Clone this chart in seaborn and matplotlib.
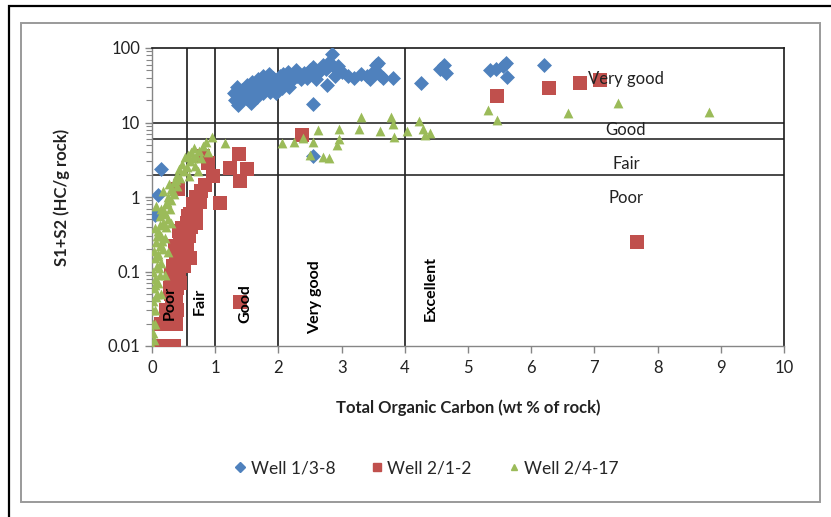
import matplotlib
matplotlib.use("Agg")
import matplotlib.pyplot as plt
import matplotlib.ticker as mticker
from matplotlib.patches import Rectangle
from matplotlib.lines import Line2D
import seaborn as sns
import pandas as pd
import numpy as np

# ---------------- data ----------------
well1_toc = [1.30, 1.32, 1.35, 1.38, 1.40, 1.42, 1.45, 1.48, 1.50, 1.52, 1.55, 1.58, 1.60, 1.62,
             1.65, 1.68, 1.70, 1.72, 1.75, 1.78, 1.80, 1.82, 1.85, 1.88, 1.90, 1.92, 1.95, 1.98,
             2.00, 2.02, 2.05, 2.08, 2.10, 2.12, 2.15, 2.18, 2.20, 2.25, 2.28, 2.30, 2.35, 2.40,
             2.45, 2.50, 2.55, 2.58, 2.60, 2.65, 2.70, 2.75, 2.77, 2.80, 2.85, 2.88, 2.90,
             2.95, 3.00, 3.10, 3.20, 3.30, 3.40, 3.45, 3.50, 3.55, 3.58, 3.60, 3.65, 3.81, 4.25,
             4.55, 4.62, 4.65, 5.35, 5.45, 5.55, 5.60, 5.62, 6.20, 2.55, 2.55, 0.15, 0.10, 0.05,
             1.36, 1.44, 1.56, 1.66, 1.76, 1.86, 1.96, 2.06, 2.16]
well1_s = [25, 20, 30, 22, 19, 27, 24, 21, 32, 26, 22, 35, 28, 24,
           30, 38, 33, 27, 42, 35, 30, 38, 45, 33, 28, 40, 35, 30,
           37, 42, 33, 45, 38, 35, 48, 40, 36, 45, 50, 42, 38, 46,
           40, 50, 55, 44, 38, 48, 60, 52, 32, 65, 83, 55, 42,
           58, 48, 42, 40, 45, 42, 38, 48, 60, 63, 44, 40, 40, 34,
           52, 60, 46, 50, 52, 58, 62, 41, 60, 17.5, 3.6, 2.4, 1.05, 0.57,
           17, 21, 18, 22, 25, 26, 25, 29, 30]

well2_toc = [0.15, 0.25, 0.35, 0.15, 0.25, 0.38, 0.22, 0.30, 0.38, 0.30, 0.40, 0.45, 0.35,
             0.42, 0.50, 0.38, 0.48, 0.55, 0.45, 0.58, 0.50, 0.62, 0.55, 0.65, 0.60, 0.70,
             0.65, 0.75, 0.70, 0.76, 0.41, 0.84, 0.97, 0.81, 0.89, 1.08, 1.23, 1.38, 1.50,
             1.39, 1.39, 2.38, 5.46, 6.28, 6.77, 7.09, 7.67, 0.28, 0.33, 0.52, 0.60,
             0.32, 0.40, 0.36, 0.44, 0.52, 0.47, 0.57, 0.66, 0.70, 0.78, 0.30, 0.42]
well2_s = [0.01, 0.01, 0.01, 0.02, 0.02, 0.02, 0.03, 0.03, 0.04, 0.05, 0.06, 0.07, 0.08,
           0.10, 0.12, 0.15, 0.18, 0.20, 0.25, 0.30, 0.35, 0.40, 0.45, 0.50, 0.60, 0.70,
           0.80, 0.90, 1.00, 0.85, 1.30, 1.45, 1.90, 3.50, 2.90, 0.83, 2.45, 3.80, 2.40,
           1.65, 0.039, 6.8, 23, 29, 34, 37, 0.25, 0.06, 0.12, 0.25, 0.15,
           0.04, 0.03, 0.22, 0.14, 0.30, 0.38, 0.55, 0.62, 0.45, 1.20, 0.09, 0.35]

well3_toc = [0.00, 0.02, 0.05, 0.02, 0.08, 0.03, 0.10, 0.05, 0.12, 0.02, 0.08, 0.15, 0.05,
             0.10, 0.18, 0.12, 0.06, 0.20, 0.15, 0.10, 0.22, 0.18, 0.25, 0.12, 0.20, 0.28,
             0.22, 0.30, 0.25, 0.35, 0.30, 0.40, 0.35, 0.45, 0.40, 0.50, 0.55, 0.48, 0.60,
             0.65, 0.70, 0.62, 0.75, 0.80, 0.85, 0.95, 1.16, 0.72, 0.58, 0.68, 0.05, 0.03,
             0.15, 0.20, 0.08, 0.30, 0.00, 0.04, 0.14, 0.25,
             0.01, 0.06, 0.11, 0.03, 0.09, 0.16, 0.04, 0.13, 0.19, 0.07, 0.24, 0.17, 0.27,
             0.33, 0.38, 0.43, 0.52, 0.57, 0.67, 0.78, 0.88,
             2.06, 2.25, 2.39, 2.54, 2.63, 2.50, 2.70, 2.80, 2.96, 2.96, 2.92, 3.28, 3.30,
             3.60, 3.78, 3.82, 3.83, 4.03, 4.23, 4.29, 4.32, 4.40, 5.32, 5.46, 6.58, 7.37, 8.81]
well3_s = [0.010, 0.020, 0.030, 0.040, 0.050, 0.060, 0.070, 0.080, 0.090, 0.10, 0.12, 0.13, 0.15,
           0.17, 0.20, 0.22, 0.25, 0.28, 0.30, 0.35, 0.40, 0.45, 0.50, 0.55, 0.60, 0.70,
           0.80, 0.90, 1.00, 1.10, 1.30, 1.40, 1.60, 1.80, 2.00, 2.20, 2.50, 2.80, 3.00,
           3.30, 3.60, 4.00, 4.20, 4.80, 5.50, 6.40, 5.30, 2.20, 1.90, 2.60, 0.020, 0.012,
           0.050, 0.090, 0.30, 0.45, 0.030, 0.065, 0.70, 0.18,
           0.015, 0.045, 0.11, 0.19, 0.16, 0.26, 0.38, 0.42, 0.65, 0.75, 0.85, 1.20, 1.50,
           1.20, 1.70, 2.40, 3.40, 3.70, 4.50, 3.30, 4.00,
           5.3, 5.5, 6.2, 5.5, 7.9, 3.7, 3.4, 3.3, 8.2, 6.0, 5.0, 8.2, 11.8,
           7.7, 11.8, 9.6, 6.4, 7.7, 10.5, 8.2, 6.7, 7.3, 14.7, 10.8, 13.4, 18.3, 13.8]

well_names = ["Well 1/3-8", "Well 2/1-2", "Well 2/4-17"]
toc_limits = [0.55, 1, 2, 4]
toc_classes = ["Poor", "Fair", "Good", "Very good", "Excellent"]
s12_limits = [10, 6, 2]
s12_classes = ["Very good", "Good", "Fair", "Poor"]
y_ticks = [0.01, 0.1, 1, 10, 100]
y_tick_labels = ["0.01", "0.1", "1", "10", "100"]
x_ticks = list(range(0, 11))

df = pd.concat([
    pd.DataFrame({"TOC": well1_toc, "S1S2": well1_s, "Well": well_names[0]}),
    pd.DataFrame({"TOC": well2_toc, "S1S2": well2_s, "Well": well_names[1]}),
    pd.DataFrame({"TOC": well3_toc, "S1S2": well3_s, "Well": well_names[2]}),
], ignore_index=True)

# ---------------- style ----------------
sns.set_theme(style="white")
plt.rcParams["font.family"] = ["Lato", "DejaVu Sans"]

W, H = 831, 517
fig = plt.figure(figsize=(W / 100, H / 100), dpi=100)
ax = fig.add_axes([152 / W, 1 - 346 / H, (784 - 152) / W, (346 - 48) / H])

# frames
fig.patches.append(Rectangle((9 / W, -0.05), 1.2, 1 - 6 / H + 0.05, transform=fig.transFigure,
                             fill=False, edgecolor="black", linewidth=1.6, zorder=-5))
fig.patches.append(Rectangle((21 / W, 1 - 502 / H), (820 - 21) / W, (502 - 23) / H,
                             transform=fig.transFigure, fill=False, edgecolor="#9a9a9a",
                             linewidth=1.4, zorder=-4))

# classification lines
for v in toc_limits:
    ax.axvline(v, color="#1a1a1a", linewidth=1.2, zorder=1)
for h in s12_limits:
    ax.axhline(h, color="#2a2a2a", linewidth=1.2, zorder=1)

palette = {well_names[0]: "#4F81BD", well_names[1]: "#C0504D", well_names[2]: "#9BBB59"}
markers = {well_names[0]: "D", well_names[1]: "s", well_names[2]: "^"}
sizes = {well_names[0]: 58, well_names[1]: 95, well_names[2]: 50}

for name in well_names:
    sub = df[df["Well"] == name]
    sns.scatterplot(data=sub, x="TOC", y="S1S2", ax=ax, color=palette[name],
                    marker=markers[name], s=sizes[name], linewidth=0, zorder=3,
                    legend=False)

ax.set_yscale("log")
ax.set_ylim(0.01, 100)
ax.set_xlim(0, 10)
ax.set_yticks(y_ticks)
ax.set_yticklabels(y_tick_labels)
ax.yaxis.set_minor_locator(mticker.LogLocator(base=10, subs=np.arange(2, 10)))
ax.yaxis.set_minor_formatter(mticker.NullFormatter())
ax.set_xticks(x_ticks)

for side in ["top", "right"]:
    ax.spines[side].set_color("#1a1a1a")
    ax.spines[side].set_linewidth(1.2)
for side in ["left", "bottom"]:
    ax.spines[side].set_color("#868686")
    ax.spines[side].set_linewidth(1.0)

ax.tick_params(axis="both", which="major", direction="out", length=5, width=1,
               color="#868686", labelsize=12, labelcolor="#222222", left=True, bottom=True)
ax.tick_params(axis="y", which="minor", direction="out", length=4, width=0.8,
               color="#868686", left=True)
ax.tick_params(axis="x", pad=5)

ax.set_xlabel("Total Organic Carbon (wt % of rock)", fontsize=12, fontweight="bold",
              color="#222222")
ax.set_ylabel("S1+S2 (HC/g rock)", fontsize=12, fontweight="bold", color="#222222")
ax.xaxis.set_label_coords(0.5, -(408 - 346) / 298, transform=ax.transAxes)
ax.yaxis.set_label_coords(-(152 - 62) / 632, 0.5, transform=ax.transAxes)
ax.xaxis.label.set_va("center")
ax.yaxis.label.set_va("center")

# class labels
toc_label_x = [0.28, 0.75, 1.47, 2.58, 4.41]
toc_label_y = [0.038, 0.04, 0.037, 0.045, 0.06]
for txt, xv, yv in zip(toc_classes, toc_label_x, toc_label_y):
    ax.text(xv, yv, txt, rotation=90, ha="center", va="center", fontsize=11.5,
            fontweight="bold", color="black", zorder=4)

s_label_y = [38, 7.9, 2.76, 0.98]
for txt, yv in zip(s12_classes, s_label_y):
    ax.text(7.5, yv, txt, ha="center", va="center", fontsize=12, color="#222222", zorder=4)

# legend
handles = [Line2D([], [], linestyle="none", marker=markers[n], color=palette[n],
                  markersize=5.5 if n != well_names[2] else 4.5) for n in well_names]
fig.legend(handles, well_names, loc="center", bbox_to_anchor=(426 / W, 1 - 468 / H),
           ncol=3, frameon=False, fontsize=12.5, handletextpad=0.2, columnspacing=2.0,
           handlelength=0.8)

fig.savefig("out.png", dpi=100)
